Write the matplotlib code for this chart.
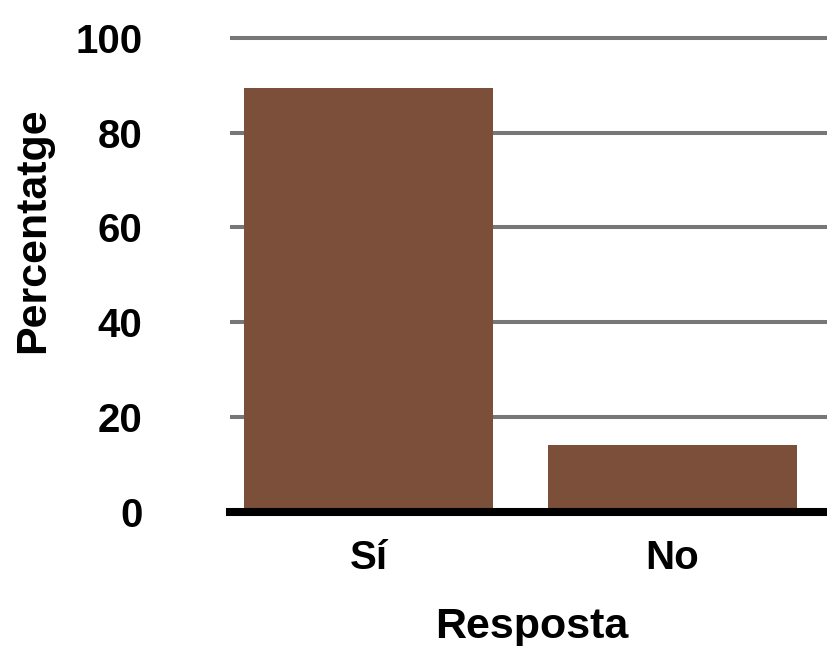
import matplotlib
matplotlib.use("Agg")
import matplotlib.pyplot as plt

# Data
categories = ["Sí", "No"]
percent = [89.5, 14]
yticks = [0, 20, 40, 60, 80, 100]

plt.rcParams["font.family"] = ["Liberation Sans", "DejaVu Sans"]
plt.rcParams["font.weight"] = "bold"

fig = plt.figure(figsize=(8.27, 6.46), dpi=100)
ax = fig.add_axes([0.278, 0.208, 0.722, 0.748])

x = list(range(len(categories)))
ax.bar(x, percent, width=0.82, color="#7B4F39", zorder=2)

ax.set_xlim(-0.458, 1.509)
ax.set_ylim(0, 102)
ax.set_yticks(yticks)
ax.set_xticks(x)
ax.set_xticklabels(categories)

ax.yaxis.grid(True, color="#777777", linewidth=2.9)
ax.set_axisbelow(True)

for side in ["top", "right", "left"]:
    ax.spines[side].set_visible(False)
ax.spines["bottom"].set_linewidth(5.8)
ax.spines["bottom"].set_color("black")
ax.spines["bottom"].set_zorder(3)

ax.tick_params(axis="y", length=0, pad=63, labelsize=29)
ax.tick_params(axis="x", length=0, pad=20, labelsize=29)
for lab in ax.get_yticklabels() + ax.get_xticklabels():
    lab.set_fontweight("bold")

ax.set_xlabel("Resposta", fontsize=31, fontweight="bold")
ax.set_ylabel("Percentatge", fontsize=31, fontweight="bold")
ax.xaxis.set_label_coords(0.506, -0.197)
ax.yaxis.set_label_coords(-0.296, 0.583)

fig.savefig("out.png", dpi=100)
